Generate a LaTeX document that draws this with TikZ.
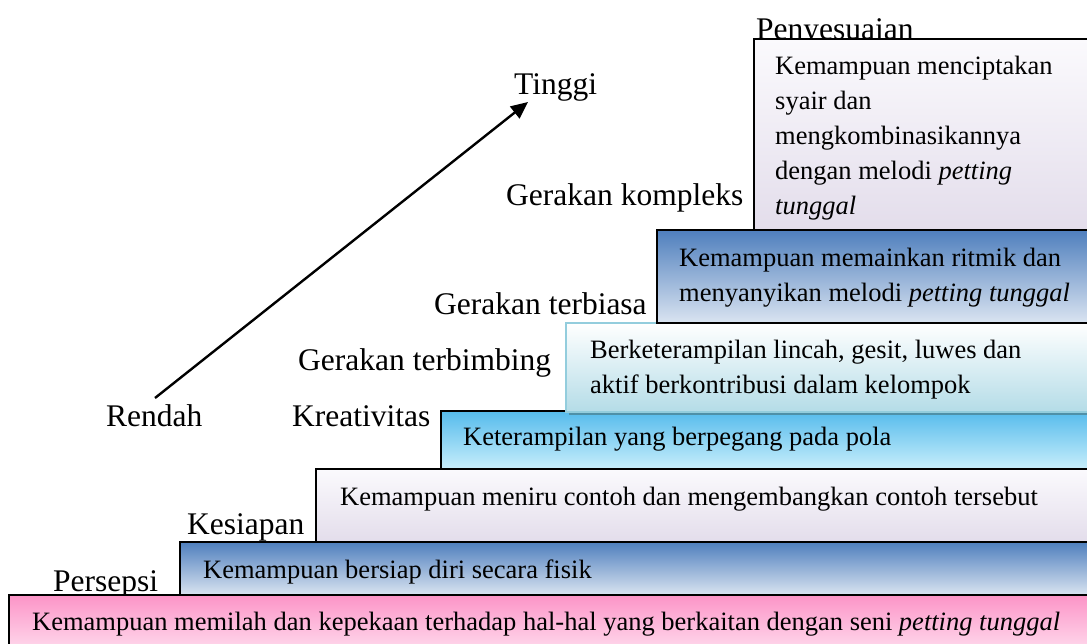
\documentclass[tikz,border=0pt]{standalone}
\usepackage{fontspec}
\setmainfont{Liberation Serif}
\usetikzlibrary{arrows.meta}
\definecolor{pinkTop}{HTML}{FC94C7}
\definecolor{pinkBot}{HTML}{FFE6F3}
\definecolor{blueTop}{HTML}{4F7FBD}
\definecolor{blueBot}{HTML}{DAE4F1}
\definecolor{lavTop}{HTML}{FBFAFD}
\definecolor{lavBot}{HTML}{E3DDEB}
\definecolor{skyTop}{HTML}{55BBEC}
\definecolor{skyBot}{HTML}{C8EEFB}
\definecolor{cyanBot}{HTML}{B4DCE7}
\definecolor{cyanEdge}{HTML}{93CDDD}
\definecolor{cyanShadow}{HTML}{4F90A8}
\begin{document}
\begin{tikzpicture}[x=1pt,y=-1pt,
  lbl/.style={anchor=base west, inner sep=0pt, font=\fontsize{31.5}{36}\selectfont},
  txt/.style={anchor=base west, inner sep=0pt, font=\fontsize{26.5}{35}\selectfont},
  boxline/.style={draw=black, line width=1.5pt},
  bluebox/.style={boxline, top color=blueTop, bottom color=blueBot},
  lavbox/.style={boxline, top color=lavTop, bottom color=lavBot}]
\useasboundingbox (0,0) rectangle (1087,643);
\clip (0,0) rectangle (1087,643);
\fill[white] (0,0) rectangle (1087,643);

% level labels
\node[lbl] (persepsi) at (53,591) {Persepsi};
\node[lbl] (kesiapan) at (187,534) {Kesiapan};
\node[lbl] (rendah) at (106,426) {Rendah};
\node[lbl] (kreativitas) at (292,426) {Kreativitas};
\node[lbl] (terbimbing) at (298,370) {Gerakan terbimbing};
\node[lbl] (terbiasa) at (434,314) {Gerakan terbiasa};
\node[lbl] (kompleks) at (506,205) {Gerakan kompleks};
\node[lbl] (tinggi) at (514,94) {Tinggi};
\node[lbl] (penyesuaian) at (756,39) {Penyesuaian};

% arrow
\coordinate (arrowStart) at (155,398);
\coordinate (arrowEnd) at (528,102);
\draw[line width=2.4pt, -{Triangle[length=17pt,width=15pt]}] (arrowStart) -- (arrowEnd);

% step boxes
\path[boxline, top color=pinkTop, bottom color=pinkBot] (9,595) rectangle (1100,660);
\path[bluebox] (180,542) rectangle (1100,595);
\path[lavbox] (316,469) rectangle (1100,542);
\path[boxline, top color=skyTop, bottom color=skyBot] (441,411) rectangle (1100,469);
\fill[cyanShadow] (569,326) rectangle (1103,415);
\path[draw=cyanEdge, line width=1.5pt, top color=white, bottom color=cyanBot] (566,323) rectangle (1100,412);
\path[bluebox] (657,230) rectangle (1100,323);
\path[lavbox] (754,39) rectangle (1100,230);

% box texts
\node[txt] (t1) at (32,630) {Kemampuan memilah dan kepekaan terhadap hal-hal yang berkaitan dengan seni \textit{petting tunggal}};
\node[txt] (t2) at (203,578) {Kemampuan bersiap diri secara fisik};
\node[txt] (t3) at (340,505) {Kemampuan meniru contoh dan mengembangkan contoh tersebut};
\node[txt] (t4) at (463,445) {Keterampilan yang berpegang pada pola};
\node[txt] (t5a) at (590,358) {Berketerampilan lincah, gesit, luwes dan};
\node[txt] (t5b) at (590,393) {aktif berkontribusi dalam kelompok};
\node[txt] (t6a) at (679,266) {Kemampuan memainkan ritmik dan};
\node[txt] (t6b) at (679,301) {menyanyikan melodi \textit{petting tunggal}};
\node[txt] (t7a) at (775,74) {Kemampuan menciptakan};
\node[txt] (t7b) at (775,109) {syair dan};
\node[txt] (t7c) at (775,144) {mengkombinasikannya};
\node[txt] (t7d) at (775,179) {dengan melodi \textit{petting}};
\node[txt] (t7e) at (775,214) {\textit{tunggal}};
\end{tikzpicture}
\end{document}
